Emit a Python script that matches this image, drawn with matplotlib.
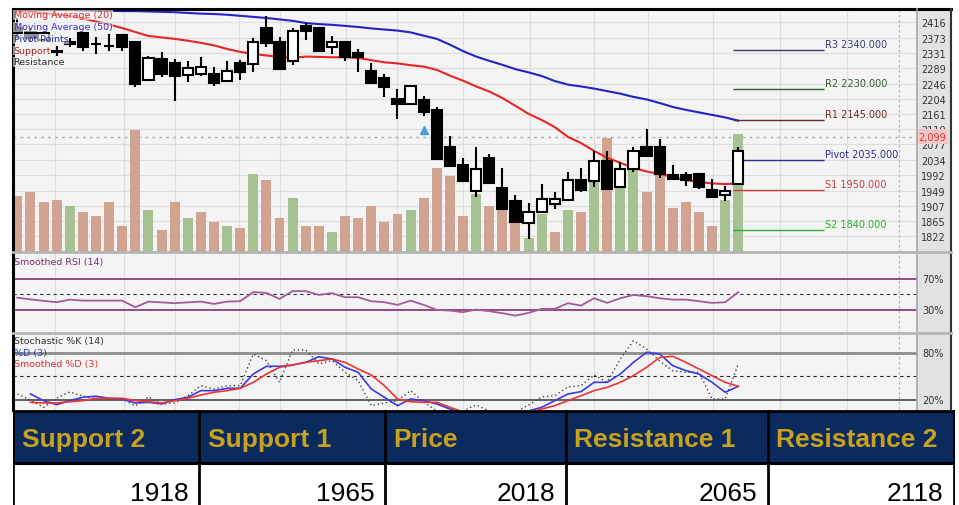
import numpy as np
import matplotlib.pyplot as plt
import matplotlib.transforms as mtransforms
from matplotlib.patches import Rectangle
from matplotlib.lines import Line2D
from matplotlib import font_manager

plt.rcParams['font.family'] = ['DejaVu Sans']

# ---- values ----
opens = [2400, 2390, 2368, 2335, 2362, 2386, 2357, 2351, 2381, 2361, 2256, 2314, 2303, 2270,
         2273, 2273, 2253, 2303, 2300, 2400, 2361, 2309, 2406, 2400, 2347, 2360, 2331, 2281,
         2261, 2203, 2189, 2200, 2173, 2070, 2020, 1948, 2040, 1956, 1920, 1859, 1890, 1912,
         1923, 1978, 1976, 2031, 1959, 2009, 2070, 2070, 1992, 1992, 1995, 1951, 1937, 1967]
highs = [2428, 2400, 2392, 2350, 2372, 2389, 2375, 2384, 2384, 2364, 2322, 2334, 2314, 2309,
         2320, 2292, 2309, 2311, 2372, 2433, 2375, 2400, 2414, 2403, 2378, 2361, 2342, 2303,
         2273, 2231, 2242, 2211, 2181, 2100, 2040, 2070, 2051, 2012, 1937, 1915, 1967, 1945,
         2001, 2012, 2059, 2059, 2028, 2070, 2120, 2092, 2020, 2001, 1998, 1981, 1962, 2070]
lows = [2372, 2362, 2360, 2322, 2348, 2336, 2328, 2336, 2336, 2236, 2253, 2264, 2198, 2250,
        2267, 2239, 2250, 2256, 2278, 2347, 2284, 2298, 2367, 2334, 2328, 2309, 2278, 2245,
        2209, 2148, 2186, 2156, 2034, 2014, 1973, 1931, 1967, 1895, 1859, 1815, 1887, 1898,
        1920, 1945, 1959, 1950, 1956, 2001, 2043, 1984, 1979, 1962, 1954, 1929, 1920, 1965]
closes = [2385, 2372, 2385, 2333, 2356, 2347, 2355, 2349, 2347, 2245, 2317, 2273, 2267, 2289,
          2292, 2248, 2281, 2278, 2361, 2359, 2286, 2392, 2392, 2336, 2361, 2320, 2320, 2248,
          2236, 2189, 2239, 2167, 2037, 2017, 1976, 2009, 1970, 1898, 1862, 1890, 1926, 1926,
          1978, 1951, 2031, 1954, 2009, 2059, 2045, 1995, 1981, 1978, 1959, 1931, 1948, 2059]
volume = [56, 60, 50, 52, 46, 40, 36, 50, 26, 122, 42, 22, 50, 34, 40, 30, 26, 24, 78, 72,
          34, 54, 26, 26, 20, 36, 34, 46, 30, 38, 42, 54, 84, 76, 36, 58, 46, 42, 30, 14,
          38, 20, 42, 40, 70, 114, 68, 84, 60, 80, 44, 50, 40, 26, 52, 118]
volume_up = [0, 0, 0, 0, 1, 0, 0, 0, 0, 0, 1, 0, 0, 1, 0, 0, 1, 0, 1, 0, 0, 1, 0, 0, 1, 0, 0, 0,
             0, 0, 1, 0, 0, 0, 0, 1, 0, 0, 0, 1, 1, 0, 1, 0, 1, 0, 1, 1, 0, 0, 0, 0, 0, 0, 1, 1]
ma20 = [2447, 2445, 2442, 2438, 2433, 2427, 2418, 2410, 2400, 2389, 2378, 2374, 2370, 2365,
        2359, 2352, 2342, 2334, 2328, 2324, 2320, 2317, 2321, 2320, 2319, 2319, 2317, 2311,
        2305, 2302, 2297, 2293, 2284, 2268, 2254, 2238, 2224, 2206, 2184, 2162, 2145, 2125,
        2098, 2081, 2059, 2040, 2026, 2012, 2002, 1995, 1987, 1978, 1973, 1969, 1967, 1969]
ma50 = [2452, 2451, 2450, 2450, 2450, 2449, 2448, 2448, 2447, 2447, 2446, 2445, 2444, 2442,
        2440, 2439, 2437, 2434, 2431, 2428, 2424, 2420, 2414, 2411, 2409, 2406, 2403, 2399,
        2396, 2393, 2388, 2379, 2370, 2354, 2336, 2321, 2309, 2298, 2286, 2277, 2267, 2253,
        2243, 2238, 2232, 2225, 2218, 2209, 2202, 2192, 2181, 2173, 2166, 2159, 2152, 2143]
rsi = [45.5, 43.3, 41.3, 39.6, 43, 41.7, 41.7, 41.7, 41.7, 33.1, 40.4, 39.4, 38.3, 39.4,
       40.4, 37.4, 40.4, 40.9, 52.7, 51.7, 43.9, 54, 54, 49.1, 51.4, 46.1, 46.1, 40.9,
       39.6, 36.1, 41.7, 36.1, 29.6, 28.7, 26.6, 30, 27.9, 25.3, 22.1, 25.7, 30.9, 30.9,
       38.3, 35.2, 44.8, 38.7, 44.8, 49.1, 47.4, 44.8, 43, 43, 40.9, 38.7, 39.6, 52.7]
stoch_k = [27.3, 19.6, 10, 22, 29.9, 24.7, 20.9, 20.9, 20.9, 11.9, 23.5, 14.5, 15.7, 25.1,
           38, 33.7, 38, 38, 78.7, 70.1, 42.3, 83.9, 83.9, 65.9, 70.1, 55.2, 44.4, 12.3,
           15.7, 18.7, 31.6, 17, 5.5, 3, 5.5, 13.2, 5.5, 1.6, 4.2, 13.2, 23.5, 25.1,
           36.3, 38, 51.7, 42.3, 72.3, 95.8, 85.1, 69.7, 57.3, 55.2, 55.2, 20.9, 20.9, 65.9]
stoch_d = [np.nan, 27.3, 18.7, 13.6, 18.7, 23.1, 24.4, 21.8, 20.9, 15.7, 16.6, 14.5, 20, 23.1,
           31.6, 31.6, 34.6, 34.6, 53, 62.9, 62.9, 64.6, 68, 75.2, 72.3, 61.6, 55.2, 33.7,
           23.1, 12.3, 20.9, 18.7, 14.5, 8, 2.9, 4.2, 2.9, 1.6, 1.6, 5.5, 10.2, 18.7,
           27.3, 30.3, 42.3, 42.3, 53, 68, 80.9, 78.7, 63.7, 57.3, 53, 42.3, 29.5, 37.2]
stoch_sd = [np.nan, 16.6, 15.7, 15.7, 17.4, 18.7, 21.8, 21.8, 21.8, 18.7, 17.4, 15.7, 18.7, 21.8,
            26, 29.5, 31.6, 34.6, 42.3, 53, 61.6, 64.6, 68, 70.1, 72.3, 68, 59.4, 51.7,
            38, 20.9, 17.4, 16.6, 16.6, 10.2, 4.2, 0.3, 0, 0, 0.3, 2.9, 8, 12.3,
            18.7, 25.1, 31.6, 35.9, 42.3, 50.8, 61.6, 74.2, 75.8, 68, 59.4, 50.8, 42.3, 37.2]
price_ticks = [1822, 1865, 1907, 1949, 1992, 2034, 2077, 2119, 2161, 2204, 2246, 2289, 2331, 2373, 2416]
week_lines = [2.9, 8.1, 12, 16.9, 20, 25.1, 29, 34, 39.1, 44, 48.1, 53.1, 58.2, 63.3]
pivot_names = ['R3', 'R2', 'R1', 'Pivot', 'S1', 'S2']
pivot_values = [2340, 2230, 2145, 2035, 1950, 1840]
pivot_colors = ['#3a3a78', '#2f5f2f', '#6a2a2a', '#2e2e8e', '#d03a3a', '#2fb02f']
last_price = 2099
alert_bar, alert_price = 31, 2118
table_headers = ['Support 2', 'Support 1', 'Price', 'Resistance 1', 'Resistance 2']
table_values = [1918, 1965, 2018, 2065, 2118]

W, H = 959, 506
fig = plt.figure(figsize=(W / 100, H / 100), dpi=100)
fig.patch.set_facecolor('white')


def add_ax(x0, y0, x1, y1):
    a = fig.add_axes([x0 / W, 1 - y1 / H, (x1 - x0) / W, (y1 - y0) / H])
    a.set_xticks([])
    a.set_yticks([])
    for s in a.spines.values():
        s.set_visible(False)
    return a


def fx(px):
    return px / W


def fy(py):
    return 1 - py / H


idx = np.arange(len(closes))
xlim = (-0.33, 68.63)
bg = '#f4f4f4'
grid_c = '#dedede'
dash_x = 67.25

# right label column
fig.patches.append(Rectangle((fx(917), fy(411)), fx(951) - fx(917), fy(10) - fy(411),
                             transform=fig.transFigure, facecolor='#e2e2e2', edgecolor='none', zorder=-1))

# ---- price panel ----
vax = add_ax(13, 10, 917, 253)
vax.set_facecolor(bg)
vax.set_xlim(xlim)
vax.set_ylim(0, 243)
ax = add_ax(13, 10, 917, 253)
ax.patch.set_alpha(0)
ax.set_xlim(xlim)
ax.set_ylim(1778.6, 2452.9)
blend = mtransforms.blended_transform_factory(vax.transAxes, ax.transData)

for g in week_lines:
    vax.axvline(g, color=grid_c, lw=0.8, zorder=1)
for t in price_ticks:
    vax.plot([0, 1], [t, t], transform=blend, color=grid_c, lw=0.8, zorder=1)
vax.plot([0, 1], [last_price, last_price], transform=blend, color='#b0b0b0', lw=1,
         ls=(0, (2, 3)), zorder=1)
vax.axvline(dash_x, color='#b8b8b8', lw=0.9, ls=(0, (2, 2)), zorder=1)
vax.bar(idx, volume, width=0.76, zorder=2,
        color=['#a6c293' if u else '#d0a490' for u in volume_up])

ax.plot(idx, ma50, color='#2323c8', lw=1.5, zorder=3)
ax.plot(idx, ma20, color='#e82424', lw=1.5, zorder=3)
for i in idx:
    o, h, l, c = opens[i], highs[i], lows[i], closes[i]
    ax.vlines(i, l, h, color='black', lw=1.5, zorder=4)
    bottom = min(o, c)
    ht = max(abs(c - o), 1.5)
    ax.add_patch(Rectangle((i - 0.39, bottom), 0.78, ht, facecolor='black' if c < o else 'white',
                           edgecolor='black', lw=1.5, zorder=5))
ax.plot(alert_bar, alert_price, marker='^', color='#4a9fd8', ms=6, zorder=6)

for name, v, col in zip(pivot_names, pivot_values, pivot_colors):
    ax.hlines(v, 54.6, 61.5, color=col, lw=1, zorder=3)
    ax.text(61.6, v + 3, f'{name} {v:.3f}', va='bottom', ha='left', fontsize=7, color=col)

# the 2119 label is partly hidden by the last-price box, as in the original
ax.yaxis.tick_right()
ax.set_yticks(price_ticks)
ax.set_yticklabels([str(t) for t in price_ticks], fontsize=7, color='#333333')
ax.tick_params(axis='y', length=0, pad=3)
ax.text(1.001, last_price, f'{last_price:,}', transform=mtransforms.blended_transform_factory(ax.transAxes, ax.transData),
        va='center', ha='left', fontsize=7, color='#d03c3c', zorder=10, clip_on=False,
        bbox=dict(facecolor='#f6c6c6', edgecolor='none', pad=1.6))

# ---- RSI panel ----
rax = add_ax(13, 253, 917, 334)
rax.set_facecolor(bg)
rax.set_xlim(xlim)
rax.set_ylim(-0.5, 105)
for g in week_lines:
    rax.axvline(g, color=grid_c, lw=0.8, zorder=1)
rax.axvline(dash_x, color='#b8b8b8', lw=0.9, ls=(0, (2, 2)), zorder=1)
rax.axhline(70, color='#8e3b7e', lw=1.3, zorder=2)
rax.axhline(30, color='#8e3b7e', lw=1.3, zorder=2)
rax.axhline(50, color='#333333', lw=0.8, ls=(0, (3, 3)), zorder=2)
rax.plot(idx, rsi, color='#a65a98', lw=1.3, zorder=3)
for lv in (70, 30):
    rax.text(1.0055, lv, f'{lv}%', transform=mtransforms.blended_transform_factory(rax.transAxes, rax.transData),
             va='center', ha='left', fontsize=7, color='#333333', clip_on=False)

# ---- Stochastic panel ----
sax = add_ax(13, 334, 917, 430)
sax.set_facecolor(bg)
sax.set_xlim(xlim)
sax.set_ylim(-17.7, 105.7)
for g in week_lines:
    sax.axvline(g, color=grid_c, lw=0.8, zorder=1)
sax.axvline(dash_x, color='#b8b8b8', lw=0.9, ls=(0, (2, 2)), zorder=1)
sax.axhline(80, color='#8c8c8c', lw=2, zorder=2)
sax.axhline(20, color='#555555', lw=1.3, zorder=2)
sax.axhline(50, color='#222222', lw=0.8, ls=(0, (3, 3)), zorder=2)
sax.plot(idx, stoch_k, color='#444444', lw=1, ls=(0, (1, 2)), zorder=3)
sax.plot(idx, stoch_d, color='#3b3be0', lw=1.2, zorder=3)
sax.plot(idx, stoch_sd, color='#ee3333', lw=1.2, zorder=3)
for lv in (80, 20):
    sax.text(1.0055, lv, f'{lv}%', transform=mtransforms.blended_transform_factory(sax.transAxes, sax.transData),
             va='center', ha='left', fontsize=7, color='#333333', clip_on=False)

# ---- frame lines ----
for xs, ys, c, lw in [([13, 951], [10, 10], 'black', 2.2),
                      ([13, 13], [10, 411], 'black', 2.2),
                      ([951, 951], [10, 411], '#333333', 1.5),
                      ([917, 917], [10, 411], '#a8a8a8', 1.2),
                      ([13, 951], [253, 253], '#b4b4b4', 2),
                      ([13, 951], [334, 334], '#b4b4b4', 2)]:
    fig.lines.append(Line2D([fx(x) for x in xs], [fy(y) for y in ys], transform=fig.transFigure,
                            color=c, lw=lw))

# ---- indicator labels ----
leg_box = dict(facecolor=bg, alpha=0.6, edgecolor='none', pad=0.3)
for txt, y, col in [('Moving Average (20)', 16, '#d83030'), ('Moving Average (50)', 28, '#3535c8'),
                    ('Pivot Points', 40, '#25259a'), ('Support', 51.5, '#b02424'),
                    ('Resistance', 63, '#333333')]:
    fig.text(fx(13.5), fy(y), txt, fontsize=6.8, color=col, va='center', ha='left', bbox=leg_box)
fig.text(fx(13.5), fy(262), 'Smoothed RSI (14)', fontsize=6.8, color='#7c2c6c', va='center', ha='left')
fig.text(fx(13.5), fy(341.5), 'Stochastic %K (14)', fontsize=6.8, color='#333333', va='center', ha='left')
fig.text(fx(13.5), fy(353.5), '%D (3)', fontsize=6.8, color='#3535c8', va='center', ha='left')
fig.text(fx(13.5), fy(365), 'Smoothed %D (3)', fontsize=6.8, color='#d83030', va='center', ha='left')

# ---- table ----
names = {f.name for f in font_manager.fontManager.ttflist}
if 'Liberation Sans Narrow' in names:
    tfam, hsize, vsize = ['Liberation Sans Narrow', 'DejaVu Sans'], 22, 22
else:
    tfam, hsize, vsize = ['Liberation Sans', 'DejaVu Sans'], 19, 19

tax = fig.add_axes([fx(13), fy(506), fx(955) - fx(13), fy(411) - fy(506)])
tax.set_axis_off()
tax.set_zorder(5)
tax.set_xlim(13, 955)
tax.set_ylim(506, 411)
col_edges = [13, 199, 385, 566, 768, 954]
tax.add_patch(Rectangle((13, 411), 941, 95, facecolor='white', edgecolor='none'))
tax.add_patch(Rectangle((13, 412), 941, 52, facecolor='#0b2a5e', edgecolor='none'))
for j, (hd, val) in enumerate(zip(table_headers, table_values)):
    x0, x1 = col_edges[j], col_edges[j + 1]
    tax.text(x0 + 8.5, 447, hd, fontsize=hsize, fontweight='bold', color='#c9a21d',
             family=tfam, ha='left', va='baseline')
    tax.text(x1 - 10.5, 501, str(val), fontsize=vsize, color='black',
             family=tfam, ha='right', va='baseline')
for x in col_edges:
    tax.plot([x, x], [411, 506], color='black', lw=2)
tax.plot([13, 954], [412, 412], color='black', lw=2)
tax.plot([13, 954], [464, 464], color='black', lw=2.2)

fig.savefig('out.png', dpi=100)
